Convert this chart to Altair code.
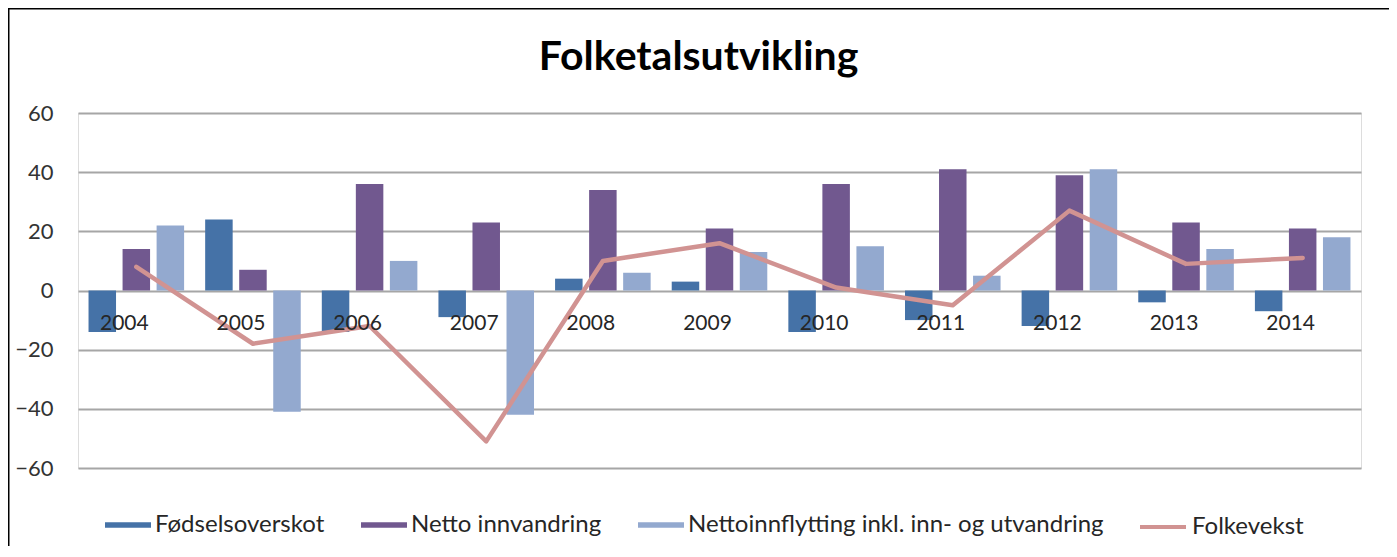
import altair as alt
import pandas as pd

years = ["2004", "2005", "2006", "2007", "2008", "2009", "2010", "2011", "2012", "2013", "2014"]
fodselsoverskot = [-14, 24, -14, -9, 4, 3, -14, -10, -12, -4, -7]
netto_innvandring = [14, 7, 36, 23, 34, 21, 36, 41, 39, 23, 21]
nettoinnflytting = [22, -41, 10, -42, 6, 13, 15, 5, 41, 14, 18]
folkevekst = [8, -18, -12, -51, 10, 16, 1, -5, 27, 9, 11]

bar_series = ["Fødselsoverskot", "Netto innvandring", "Nettoinnflytting inkl. inn- og utvandring"]
bar_colors = ["#4572A7", "#71588F", "#93A9CF"]
line_series = "Folkevekst"
line_color = "#D19392"
title_text = "Folketalsutvikling"

rows = []
for name, vals in zip(bar_series, [fodselsoverskot, netto_innvandring, nettoinnflytting]):
    for y, v in zip(years, vals):
        rows.append({"year": y, "series": name, "value": v})
bars_df = pd.DataFrame(rows)
line_df = pd.DataFrame({"year": years, "series": line_series, "value": folkevekst})
years_df = pd.DataFrame({"year": years})
title_df = pd.DataFrame({"t": [title_text]})

FONT = "Lato"
W, H = 1283, 355

x_scale = alt.Scale(domain=years, paddingInner=0.18, paddingOuter=0.09)
y_scale = alt.Scale(domain=[-60, 60], nice=False)

x_axis = alt.Axis(labels=False, ticks=False, domain=False, grid=False, title=None)
y_axis = alt.Axis(values=[-60, -40, -20, 0, 20, 40, 60], title=None, domain=False, ticks=False,
                  labelPadding=25, labelFontSize=22, labelFont=FONT, labelColor="#333333",
                  gridColor="#A6A6A6", gridWidth=2)

bars = alt.Chart(bars_df).mark_bar(size=27.5).encode(
    x=alt.X("year:N", scale=x_scale, axis=x_axis, sort=years),
    xOffset=alt.XOffset("series:N", scale=alt.Scale(domain=bar_series, paddingInner=0.19, paddingOuter=0), sort=bar_series),
    y=alt.Y("value:Q", scale=y_scale, axis=y_axis),
    color=alt.Color("series:N", scale=alt.Scale(domain=bar_series, range=bar_colors),
                    legend=alt.Legend(title=None, orient="none", direction="horizontal",
                                      legendX=27, legendY=389,
                                      symbolType="M-1,-0.12H1V0.12H-1Z", symbolSize=2116,
                                      symbolStrokeWidth=0, labelLimit=1000,
                                      labelFont=FONT, labelFontSize=24, labelColor="#262626",
                                      labelOffset=4, columnPadding=36)),
)

line = alt.Chart(line_df).mark_line(strokeWidth=4.5, strokeCap="round", strokeJoin="round").encode(
    x=alt.X("year:N", scale=x_scale, axis=x_axis, sort=years),
    y=alt.Y("value:Q", scale=y_scale, axis=y_axis),
    stroke=alt.Stroke("series:N", scale=alt.Scale(domain=[line_series], range=[line_color]),
                      legend=alt.Legend(title=None, orient="none", direction="horizontal",
                                        legendX=1060, legendY=389, labelLimit=1000,
                                        symbolType="stroke", symbolSize=2116, symbolStrokeWidth=4,
                                        labelFont=FONT, labelFontSize=24, labelColor="#262626",
                                        labelOffset=4)),
)

labels = alt.Chart(years_df).mark_text(fontSize=21, font=FONT, color="#262626", dy=33, dx=-12,
                                       baseline="middle", align="center").encode(
    x=alt.X("year:N", scale=x_scale, axis=x_axis, sort=years),
    y=alt.datum(0),
    text="year:N",
)

title = alt.Chart(title_df).mark_text(fontSize=41, font=FONT, fontWeight="bold", color="#000000",
                                      align="center", baseline="alphabetic").encode(
    x=alt.value(W / 2 - 21), y=alt.value(-43), text="t:N"
)

frame = alt.Chart(title_df).mark_rect(fill=None, stroke="black", strokeWidth=3).encode(
    x=alt.value(-70), x2=alt.value(W + 40), y=alt.value(-105), y2=alt.value(H + 200)
)

chart = alt.layer(frame, bars, line, labels, title).properties(
    width=W, height=H,
    autosize=alt.AutoSizeParams(type="none"),
    padding={"left": 70, "top": 105, "right": 28, "bottom": 78},
).resolve_scale(color="independent").configure_view(stroke=None).configure(background="white")

chart.save("out.html", embed_options={"renderer": "svg", "actions": False})
